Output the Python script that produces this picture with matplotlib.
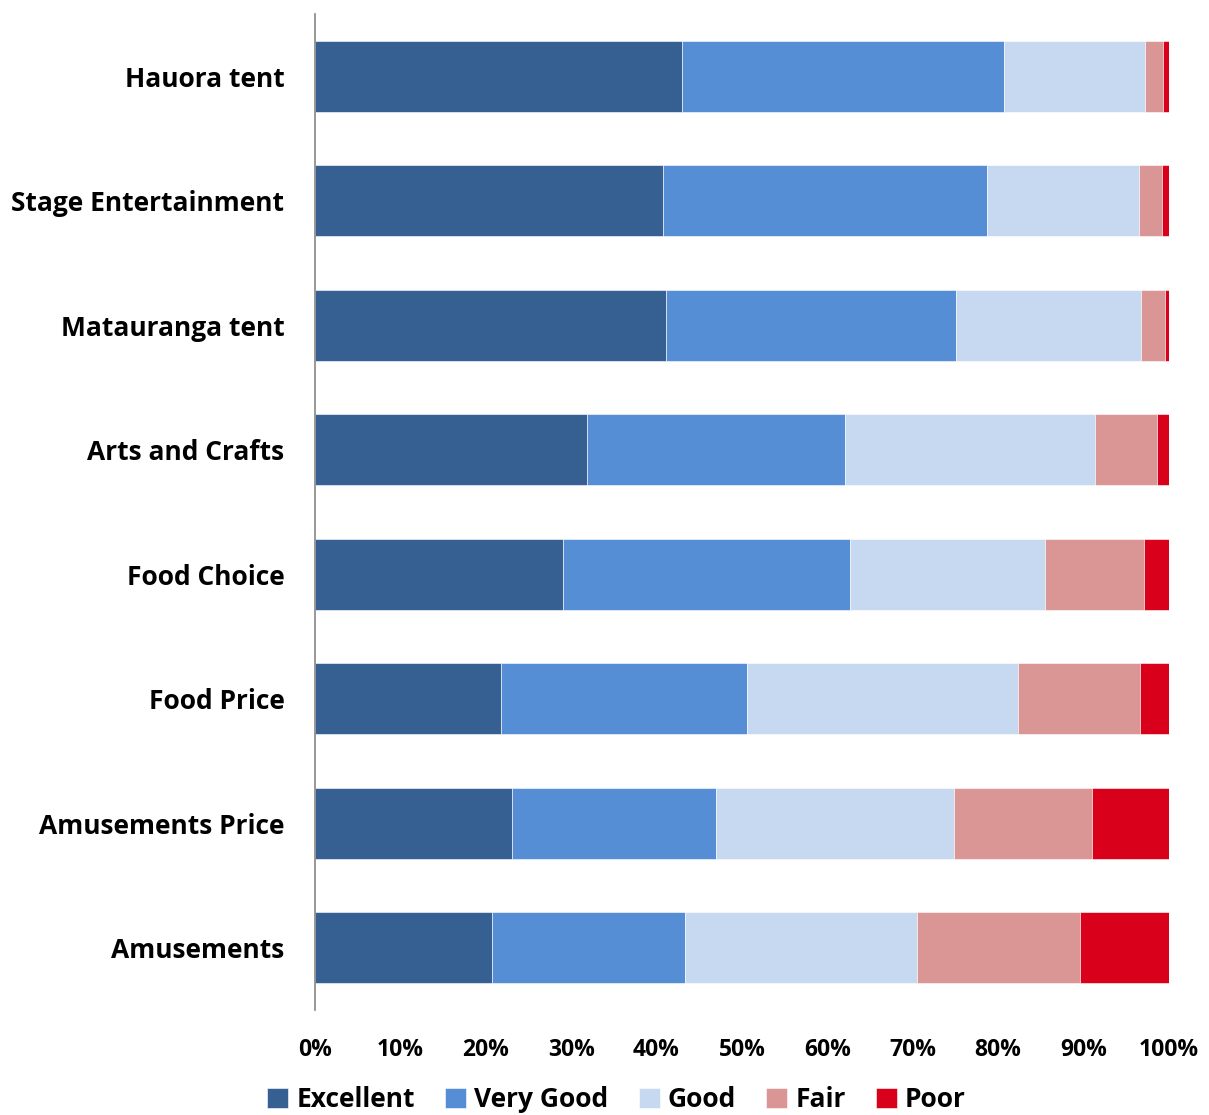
import numpy as np
import matplotlib.pyplot as plt
from matplotlib.ticker import MultipleLocator, PercentFormatter

plt.rcParams['font.family'] = ['Open Sans', 'DejaVu Sans']
plt.rcParams['font.weight'] = 'bold'

# survey ratings, percent of responses per item (top to bottom)
items = ['Hauora tent', 'Stage Entertainment', 'Matauranga tent', 'Arts and Crafts',
         'Food Choice', 'Food Price', 'Amusements Price', 'Amusements']
excellent = [43.0, 40.7, 41.1, 31.9, 29.0, 21.8, 23.1, 20.7]
very_good = [37.7, 38.0, 34.0, 30.2, 33.6, 28.8, 23.9, 22.6]
good = [16.5, 17.8, 21.6, 29.2, 22.9, 31.7, 27.8, 27.2]
fair = [2.1, 2.7, 2.8, 7.3, 11.6, 14.3, 16.2, 19.1]
poor = [0.7, 0.8, 0.5, 1.4, 2.9, 3.4, 9.0, 10.4]

ratings = ['Excellent', 'Very Good', 'Good', 'Fair', 'Poor']
colors = ['#376092', '#558ED5', '#C6D9F1', '#D99694', '#D9001B']

fig = plt.figure(figsize=(12.09, 11.15), dpi=100)
ax = fig.add_axes([0.2605, 1 - 1010 / 1115, 0.7064, 996 / 1115])

y = np.arange(len(items))
left = np.zeros(len(items))
for name, vals, c in zip(ratings, [excellent, very_good, good, fair, poor], colors):
    vals = np.array(vals)
    ax.barh(y, vals, left=left, height=0.57, color=c, label=name,
            edgecolor='white', linewidth=0.4)
    left += vals

ax.set_ylim(len(items) - 0.5, -0.5)
ax.set_xlim(0, 100)
ax.set_yticks(y)
ax.set_yticklabels(items, fontsize=19, fontweight='bold')
ax.xaxis.set_major_locator(MultipleLocator(10))
ax.xaxis.set_major_formatter(PercentFormatter(decimals=0))
ax.tick_params(axis='x', length=0, labelsize=16.5, pad=20)
ax.tick_params(axis='y', length=0, pad=22)

for s in ['top', 'right', 'bottom']:
    ax.spines[s].set_visible(False)
ax.spines['left'].set_color('#868686')
ax.spines['left'].set_linewidth(1.2)

fig.legend(loc='upper center', bbox_to_anchor=(0.51, 1 - 1068 / 1115), ncol=5,
           frameon=False, fontsize=19, handlelength=0.8, handleheight=0.8,
           handletextpad=0.3, columnspacing=1.15, borderpad=0.2)

fig.savefig('out.png', dpi=100)
